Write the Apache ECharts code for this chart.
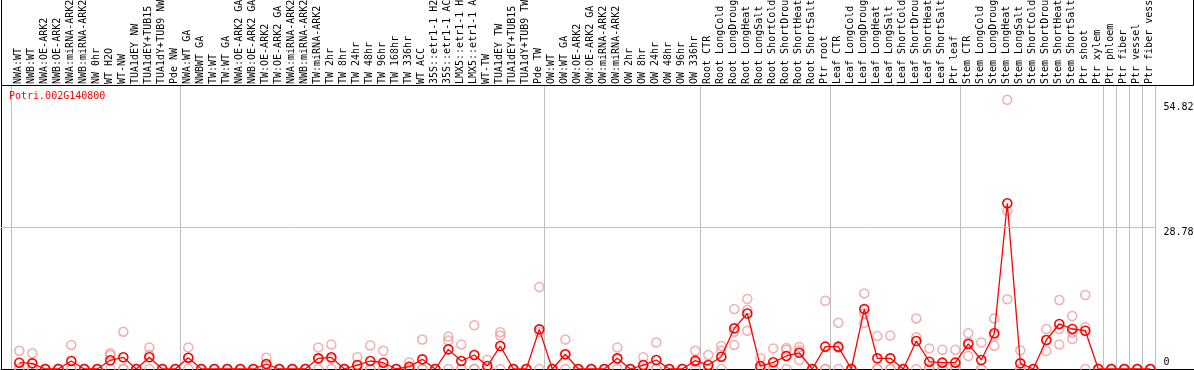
<!DOCTYPE html>
<html><head><meta charset="utf-8">
<script src="https://cdn.jsdelivr.net/npm/echarts@6/dist/echarts.min.js"></script>
<style>html,body{margin:0;padding:0;background:#fff;}#c{width:1194px;height:370px;}</style>
</head><body><div id="c"></div>
<script>
const geneId = 'Potri.002G140800';
const categories = [
 'NWA:WT','NWB:WT','NWA:OE-ARK2','NWB:OE-ARK2','NWA:miRNA-ARK2','NWB:miRNA-ARK2','NW 0hr','WT H2O','WT-NW','TUA1dEY NW','TUA1dEY+TUB15 NW','TUA1dY+TUB9 NW','Pde NW',
 'NWA:WT GA','NWBWT GA','TW:WT','TW:WT GA','NWA:OE-ARK2 GA','NWB:OE-ARK2 GA','TW:OE-ARK2','TW:OE-ARK2 GA','NWA:miRNA-ARK2','NWB:miRNA-ARK2','TW:miRNA-ARK2',
 'TW 2hr','TW 8hr','TW 24hr','TW 48hr','TW 96hr','TW 168hr','TW 336hr','WT ACC','35S::etr1-1 H2O','35S::etr1-1 ACC','LMX5::etr1-1 H2O','LMX5::etr1-1 ACC','WT-TW','TUA1dEY TW','TUA1dEY+TUB15 TW','TUA1dY+TUB9 TW','Pde TW',
 'OW:WT','OW:WT GA','OW:OE-ARK2','OW:OE-ARK2 GA','OW:miRNA-ARK2','OW:miRNA-ARK2','OW 2hr','OW 8hr','OW 24hr','OW 48hr','OW 96hr','OW 336hr',
 'Root CTR','Root LongCold','Root LongDrought','Root LongHeat','Root LongSalt','Root ShortCold','Root ShortDrought','Root ShortHeat','Root ShortSalt','Ptr root',
 'Leaf CTR','Leaf LongCold','Leaf LongDrought','Leaf LongHeat','Leaf LongSalt','Leaf ShortCold','Leaf ShortDrought','Leaf ShortHeat','Leaf ShortSalt','Ptr leaf',
 'Stem CTR','Stem LongCold','Stem LongDrought','Stem LongHeat','Stem LongSalt','Stem ShortCold','Stem ShortDrought','Stem ShortHeat','Stem ShortSalt','Ptr shoot',
 'Ptr xylem','Ptr phloem','Ptr fiber','Ptr vessel','Ptr fiber vessel'
];
const meanVals = [
 1.28,1.15,0,0,1.63,0,0,1.77,2.38,0,2.38,0,0,
 2.3,0,0,0,0,0,1.02,0,0,0,2.17,
 2.38,0,0.81,1.63,1.28,0,0.47,1.97,0,4.0,1.63,2.85,0.61,4.68,0,0,8.08,
 0,3.0,0,0,0,2.17,0,0.81,1.83,0,0,1.7,
 0.81,2.5,8.28,11.3,0.6,1.36,2.65,3.3,0,4.55,
 4.55,0,12.2,2.17,2.17,0,5.7,1.49,1.29,1.29,
 5.1,1.83,7.27,33.75,1.15,0,5.9,9.17,8.15,7.8,
 0,0,0,0,0
];
const rep1 = [
 3.7,3.2,0,0,4.9,0,0,3.2,7.6,0,4.4,0,0,
 4.4,0,0,0,0,0,2.3,0,0,0,4.4,
 5.0,0,2.4,4.8,3.7,0,1.4,6.0,0,6.6,5.0,8.9,1.9,7.5,0,0,16.7,
 0,6.0,0,0,0,4.4,0,2.4,5.4,0,0,3.7,
 2.85,4.7,12.2,14.26,2.2,4.2,4.3,4.5,0,13.9,
 9.4,0,15.4,6.7,6.8,0,10.3,4.2,3.9,3.9,
 7.3,5.4,10.3,54.82,3.8,0,8.15,14.05,10.8,15.07,
 0,0,0,0,0
];
const rep2 = [
 0.15,0.2,0,0,0,0,0,2.85,0,0,2.85,0,0,
 2.3,0,0,0,0,0,0.75,0,0,0,2.1,
 2.1,0,0,0,0.15,0,0,0,0,5.8,0,0,0,6.8,0,0,7.5,
 0,3.0,0,0,0,2.1,0,0,0.1,0,0,1.4,
 0,3.7,7.6,12.0,0,0,3.9,3.8,0,0,
 4.3,0,11.3,0,0,0,6.45,0.3,0,0,
 5.4,0,6.8,32.2,0,0,5.9,8.15,7.4,8.5,
 0,0,0,0,0
];
const rep3 = [
 0,0,0,0,0,0,0,0,0,0,0,0,0,
 0,0,0,0,0,0,0,0,0,0,0,
 0,0,0,0,0,0,0,0,0,0,0,0,0,0,0,0,0,
 0,0,0,0,0,0,0,0,0,0,0,0,
 0,0,4.9,7.8,0,0,0,1.8,0,0,
 0,0,9.4,0,0,0,0,0,0,0,
 2.65,0,4.75,14.2,0,0,3.67,5.0,6.1,0,
 0,0,0,0,0
];
const groupStarts = [0, 13, 41, 53, 63, 73, 84, 85, 86, 87];
const yTickValues = [0, 28.78, 54.82];
const refLineValue = 28.78;
const yMax = 57.64;

const FONT = 'DejaVu Sans Mono';
const xMin = -1.40769, xMax = 90.3615, xRefEnd = 87.3615;

const meanData = meanVals.map((v, i) => [i, v]);
const repData = [];
[rep1, rep2, rep3].forEach(arr => arr.forEach((v, i) => repData.push([i, v])));

const chart = echarts.init(document.getElementById('c'), null, {renderer: 'canvas'});
chart.setOption({
  animation: false,
  backgroundColor: '#fff',
  title: {
    text: geneId, left: 9, top: 91, padding: 0,
    textStyle: {color: '#ff0000', fontSize: 10, fontFamily: FONT, fontWeight: 'normal'}
  },
  grid: [
    {left: 1, right: 0, top: 86, bottom: 1, containLabel: false, outerBoundsMode: 'none'},
    {left: 11.5, right: 38.5, top: 86, bottom: 1, containLabel: false, outerBoundsMode: 'none'}
  ],
  xAxis: [
    {type: 'value', gridIndex: 0, min: xMin, max: xMax,
     axisLine: {show: true, onZero: false, lineStyle: {color: '#000', width: 1}},
     axisTick: {show: false}, axisLabel: {show: false}, splitLine: {show: false}},
    {type: 'category', gridIndex: 1, position: 'top', data: categories, boundaryGap: true,
     axisLine: {show: false},
     axisTick: {show: true, length: 86, interval: (i) => groupStarts.includes(i),
                lineStyle: {color: '#c0c0c0', width: 1}},
     splitLine: {show: true, interval: (i) => groupStarts.includes(i),
                 lineStyle: {color: '#c0c0c0', width: 1}},
     axisLabel: {show: true, interval: 0, rotate: 90, margin: 2, color: '#000',
                 fontSize: 10, fontFamily: FONT, hideOverlap: false}}
  ],
  yAxis: [
    {type: 'value', gridIndex: 0, min: 0, max: yMax,
     axisLine: {show: true, onZero: false, lineStyle: {color: '#000', width: 1}},
     axisTick: {show: false}, axisLabel: {show: false}, splitLine: {show: false}},
    {type: 'value', gridIndex: 1, position: 'right', min: 0, max: yMax,
     axisLine: {show: false}, axisTick: {show: false}, splitLine: {show: false},
     axisLabel: {show: true, customValues: yTickValues, margin: 8, color: '#000',
       fontSize: 10, fontFamily: FONT,
       formatter: (v) => v === 0 ? '{z|0}' : (v === refLineValue ? '{m|' + v + '}' : '{t|' + v + '}'),
       rich: {
         z: {padding: [0, 0, 14, 0], fontSize: 10, fontFamily: FONT, color: '#000'},
         m: {padding: [10, 0, 0, 0], fontSize: 10, fontFamily: FONT, color: '#000'},
         t: {padding: [15, 0, 0, 0], fontSize: 10, fontFamily: FONT, color: '#000'}
       }}}
  ],
  graphic: [{
    type: 'polyline', silent: true, z: 100,
    shape: {points: [[1.5, 0], [1.5, 85.5], [1193.5, 85.5], [1193.5, 0]]},
    style: {stroke: '#000', lineWidth: 1, fill: null}
  }],
  series: [
    {type: 'scatter', xAxisIndex: 0, yAxisIndex: 0, data: repData, symbol: 'circle', symbolSize: 9,
     itemStyle: {color: 'rgba(0,0,0,0)', borderColor: '#f09a9a', borderWidth: 1.5},
     emphasis: {disabled: true}, z: 2,
     markLine: {silent: true, symbol: 'none', label: {show: false},
       lineStyle: {color: '#c0c0c0', type: 'solid', width: 1},
       data: [[{coord: [xMin, refLineValue]}, {coord: [xRefEnd, refLineValue]}]]}},
    {type: 'line', xAxisIndex: 0, yAxisIndex: 0, data: meanData, symbol: 'circle', symbolSize: 9,
     showAllSymbol: true,
     lineStyle: {color: '#ff0000', width: 1.3},
     itemStyle: {color: 'rgba(0,0,0,0)', borderColor: '#ff0000', borderWidth: 1.6},
     emphasis: {disabled: true}, z: 3}
  ]
});
</script></body></html>
